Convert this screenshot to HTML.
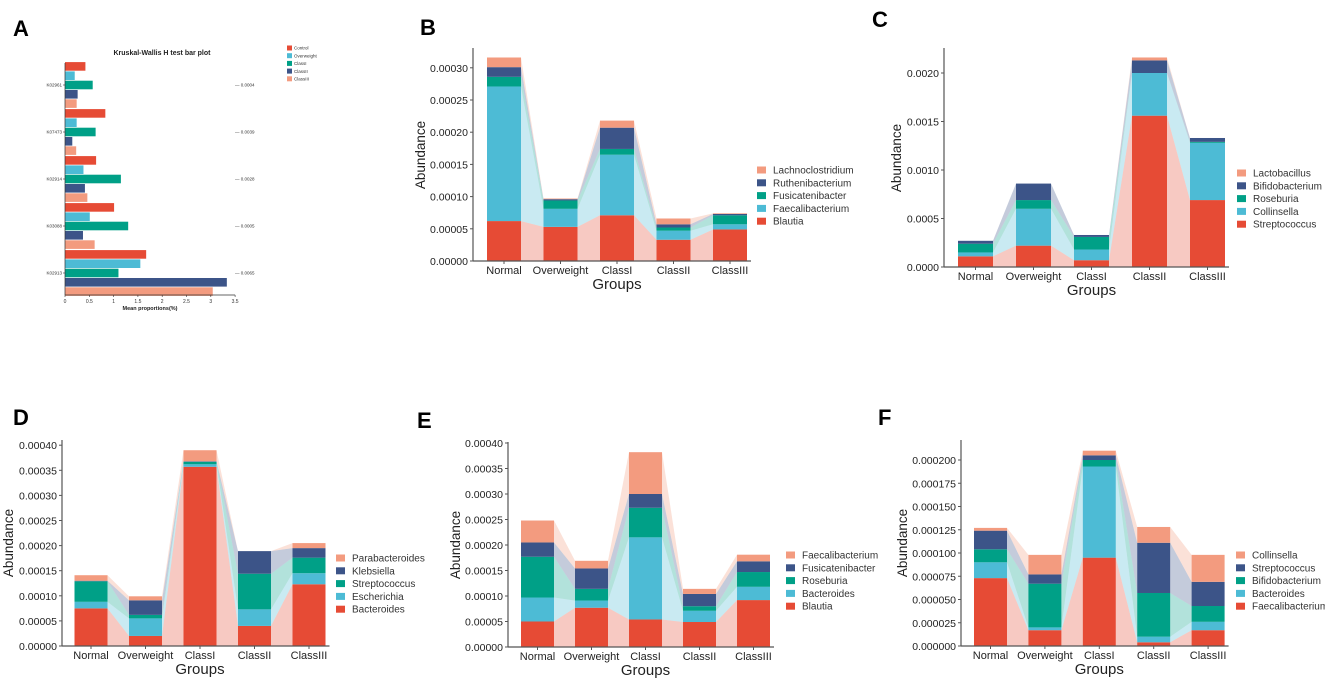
<!DOCTYPE html>
<html><head><meta charset="utf-8"><style>
html,body{margin:0;padding:0;background:#fff;}
svg{display:block;font-family:"Liberation Sans",Arial,sans-serif;}
</style></head><body>
<svg id="fig" width="1325" height="683" viewBox="0 0 1325 683" xmlns="http://www.w3.org/2000/svg"></svg>
<script>
const NS='http://www.w3.org/2000/svg';
const colors=['#E64B35','#4DBBD5','#00A087','#3C5488','#F39B7F'];
const groups=['Normal','Overweight','ClassI','ClassII','ClassIII'];

// Panel A data
const aCats=['K02961','K07473','K02914','K03088','K02913'];
const aSeries=['Control','Overweight','ClassI','ClassII','ClassIII'];
const aControl=[0.42,0.83,0.64,1.01,1.67];
const aOverweight=[0.20,0.24,0.38,0.51,1.55];
const aClassI=[0.57,0.63,1.15,1.30,1.10];
const aClassII=[0.26,0.15,0.41,0.37,3.33];
const aClassIII=[0.24,0.23,0.46,0.61,3.04];
const aPvals=['0.0004','0.0039','0.0028','0.0005','0.0065'];
const aTicks=[0,0.5,1,1.5,2,2.5,3,3.5];

// Panel B (cumulative stacks per group)
const bTaxa=['Blautia','Faecalibacterium','Fusicatenibacter','Ruthenibacterium','Lachnoclostridium'];
const bNormal=[0.000062,0.000271,0.000286,0.000301,0.000316];
const bOverweight=[0.000053,0.000081,0.000094,0.000096,0.000097];
const bClassI=[0.000071,0.000165,0.000174,0.000207,0.000218];
const bClassII=[0.000033,0.000047,0.000052,0.000057,0.000066];
const bClassIII=[0.000049,0.000057,0.000071,0.000073,0.000074];
const bTicks=['0.00000','0.00005','0.00010','0.00015','0.00020','0.00025','0.00030'];

// Panel C
const cTaxa=['Streptococcus','Collinsella','Roseburia','Bifidobacterium','Lactobacillus'];
const cNormal=[0.00011,0.00015,0.00024,0.00027,0.00027];
const cOverweight=[0.00022,0.00060,0.00069,0.00086,0.00086];
const cClassI=[0.00007,0.00018,0.00031,0.00033,0.00033];
const cClassII=[0.00156,0.00200,0.00200,0.00213,0.00216];
const cClassIII=[0.00069,0.00128,0.00129,0.00133,0.00133];
const cTicks=['0.0000','0.0005','0.0010','0.0015','0.0020'];

// Panel D
const dTaxa=['Bacteroides','Escherichia','Streptococcus','Klebsiella','Parabacteroides'];
const dNormal=[0.000075,0.000088,0.000129,0.000130,0.000141];
const dOverweight=[0.000020,0.000055,0.000062,0.000091,0.000099];
const dClassI=[0.000357,0.000362,0.000367,0.000368,0.000390];
const dClassII=[0.000040,0.000073,0.000144,0.000189,0.000189];
const dClassIII=[0.000123,0.000145,0.000176,0.000195,0.000205];
const dTicks=['0.00000','0.00005','0.00010','0.00015','0.00020','0.00025','0.00030','0.00035','0.00040'];

// Panel E
const eTaxa=['Blautia','Bacteroides','Roseburia','Fusicatenibacter','Faecalibacterium'];
const eNormal=[0.000050,0.000097,0.000177,0.000205,0.000248];
const eOverweight=[0.000077,0.000091,0.000114,0.000154,0.000169];
const eClassI=[0.000054,0.000215,0.000273,0.000300,0.000382];
const eClassII=[0.000049,0.000071,0.000080,0.000104,0.000114];
const eClassIII=[0.000092,0.000118,0.000147,0.000168,0.000181];
const eTicks=['0.00000','0.00005','0.00010','0.00015','0.00020','0.00025','0.00030','0.00035','0.00040'];

// Panel F
const fTaxa=['Faecalibacterium','Bacteroides','Bifidobacterium','Streptococcus','Collinsella'];
const fNormal=[0.000073,0.000090,0.000104,0.000124,0.000127];
const fOverweight=[0.000017,0.000020,0.000067,0.000077,0.000098];
const fClassI=[0.000095,0.000193,0.000200,0.000205,0.000210];
const fClassII=[0.000004,0.000010,0.000057,0.000111,0.000128];
const fClassIII=[0.000017,0.000026,0.000043,0.000069,0.000098];
const fTicks=['0.000000','0.000025','0.000050','0.000075','0.000100','0.000125','0.000150','0.000175','0.000200'];

const svg=document.getElementById('fig');
function mk(tag,attrs,parent){const e=document.createElementNS(NS,tag);for(const k in attrs)e.setAttribute(k,attrs[k]);(parent||svg).appendChild(e);return e;}
function txt(s,attrs,parent){const e=mk('text',attrs,parent);e.textContent=s;return e;}

function letter(s,x,y){const t=txt(s,{x:x,y:y,'font-size':22,'font-weight':'bold',fill:'#000'});

}

function stackPanel(cfg){
  const g=mk('g',{});
  
  
  const yv=v=>cfg.base-(v/cfg.tickStep)*cfg.pxPerStep;
  const xc=i=>cfg.x0+i*cfg.sp;
  const hw=cfg.bw/2;
  const data=cfg.stacks;
  for(let i=0;i<data.length-1;i++){
    for(let k=0;k<5;k++){
      const lo1=k?data[i][k-1]:0, hi1=data[i][k], lo2=k?data[i+1][k-1]:0, hi2=data[i+1][k];
      const xa=xc(i)+hw, xb=xc(i+1)-hw;
      const p=mk('polygon',{points:`${xa},${yv(lo1)} ${xa},${yv(hi1)} ${xb},${yv(hi2)} ${xb},${yv(lo2)}`,fill:colors[k],'fill-opacity':0.3},g);
      
      
    }
  }
  for(let i=0;i<data.length;i++){
    for(let k=0;k<5;k++){
      const lo=k?data[i][k-1]:0, hi=data[i][k];
      const r=mk('rect',{x:xc(i)-hw,y:yv(hi),width:cfg.bw,height:Math.max(0,yv(lo)-yv(hi)),fill:colors[k]},g);
      
      
    }
  }
  const ax=mk('line',{x1:cfg.ax,y1:cfg.top,x2:cfg.ax,y2:cfg.base,stroke:'#555','stroke-width':1.2},g);
  
  const bx=mk('line',{x1:cfg.ax,y1:cfg.base,x2:xc(4)+hw+4,y2:cfg.base,stroke:'#555','stroke-width':1.2},g);
  
  cfg.ticks.forEach((t,j)=>{
    const y=yv(j*cfg.tickStep);
    mk('line',{x1:cfg.ax-3,y1:y,x2:cfg.ax,y2:y,stroke:'#555'},g);
    const l=txt(t,{x:cfg.ax-5,y:y+4,'font-size':10.5,'text-anchor':'end',fill:'#222'},g);
    
  });
  groups.forEach((gname,i)=>{
    mk('line',{x1:xc(i),y1:cfg.base,x2:xc(i),y2:cfg.base+3,stroke:'#555'},g);
    const l=txt(gname,{x:xc(i),y:cfg.base+13,'font-size':11,'text-anchor':'middle',fill:'#222'},g);
    
  });
  const gt=txt('Groups',{x:(xc(0)+xc(4))/2,y:cfg.base+28,'font-size':15,'text-anchor':'middle',fill:'#222'},g);
  
  const at=txt('Abundance',{x:0,y:0,'font-size':13.5,'text-anchor':'middle',fill:'#222',transform:`translate(${cfg.titleX},${cfg.titleY}) rotate(-90)`},g);
  
  for(let k=4;k>=0;k--){
    const row=4-k, y=cfg.legY+row*12.8;
    const lg=mk('g',{},g);
    
    
    mk('rect',{x:cfg.legX,y:y-3.5,width:9,height:7,fill:colors[k]},lg);
    txt(cfg.taxa[k],{x:cfg.legX+16,y:y+3.5,'font-size':10,fill:'#333'},lg);
  }
}

(function(){
  const g=mk('g',{});
  
  
  const series=[aControl,aOverweight,aClassI,aClassII,aClassIII];
  const x0=65, pxu=48.6, base=295, top=63;
  const xv=v=>x0+v*pxu;
  const centers=[85,132,179,226,273];
  const bh=8.6, step=9.3;
  const t=txt('Kruskal-Wallis H test bar plot',{x:162,y:55,'font-size':7,'font-weight':'bold','text-anchor':'middle',fill:'#222'},g);
  
  aCats.forEach((c,i)=>{
    series.forEach((s,k)=>{
      const yc=centers[i]+(k-2)*step;
      const r=mk('rect',{x:x0,y:yc-bh/2,width:xv(s[i])-x0,height:bh,fill:colors[k]},g);
      
      
    });
    mk('line',{x1:x0-2,y1:centers[i],x2:x0,y2:centers[i],stroke:'#333','stroke-width':0.6},g);
    const l=txt(c,{x:x0-3,y:centers[i]+1.5,'font-size':4.5,'text-anchor':'end',fill:'#333'},g);
    
    const p=txt('— '+aPvals[i],{x:235,y:centers[i]+1.5,'font-size':4.5,fill:'#333'},g);
    
  });
  const ya=mk('line',{x1:x0,y1:top,x2:x0,y2:base,stroke:'#333','stroke-width':0.7},g);
  
  const xa=mk('line',{x1:x0,y1:base,x2:xv(3.5),y2:base,stroke:'#333','stroke-width':0.7},g);
  
  aTicks.forEach(v=>{
    mk('line',{x1:xv(v),y1:base,x2:xv(v),y2:base+2,stroke:'#333','stroke-width':0.6},g);
    const l=txt(String(v),{x:xv(v),y:base+8,'font-size':5,'text-anchor':'middle',fill:'#333'},g);
    
  });
  const xt=txt('Mean proportions(%)',{x:150,y:310,'font-size':5.5,'font-weight':'bold','text-anchor':'middle',fill:'#222'},g);
  
  aSeries.forEach((s,k)=>{
    const lg=mk('g',{},g);
    
    
    const y=48+k*7.7;
    mk('rect',{x:287,y:y-2.5,width:5,height:5,fill:colors[k]},lg);
    txt(s,{x:294,y:y+1.7,'font-size':4.5,fill:'#333'},lg);
  });
})();

letter('A',13,36);
letter('B',420,35);
letter('C',872,27);
letter('D',13,425);
letter('E',417,428);
letter('F',878,425);

stackPanel({id:'b',taxa:bTaxa,stacks:[bNormal,bOverweight,bClassI,bClassII,bClassIII],ticks:bTicks,tickStep:0.00005,pxPerStep:32.2,base:261,top:48,ax:473,x0:504,sp:56.5,bw:34,titleX:425,titleY:155,legX:757,legY:170});
stackPanel({id:'c',taxa:cTaxa,stacks:[cNormal,cOverweight,cClassI,cClassII,cClassIII],ticks:cTicks,tickStep:0.0005,pxPerStep:48.5,base:267,top:48,ax:944,x0:975.5,sp:58,bw:35,titleX:901,titleY:158,legX:1237,legY:173});
stackPanel({id:'d',taxa:dTaxa,stacks:[dNormal,dOverweight,dClassI,dClassII,dClassIII],ticks:dTicks,tickStep:0.00005,pxPerStep:25.1,base:646,top:440,ax:62,x0:91,sp:54.5,bw:33,titleX:13,titleY:543,legX:336,legY:558});
stackPanel({id:'e',taxa:eTaxa,stacks:[eNormal,eOverweight,eClassI,eClassII,eClassIII],ticks:eTicks,tickStep:0.00005,pxPerStep:25.5,base:647,top:442,ax:508,x0:537.5,sp:54,bw:33,titleX:460,titleY:545,legX:786,legY:555});
stackPanel({id:'f',taxa:fTaxa,stacks:[fNormal,fOverweight,fClassI,fClassII,fClassIII],ticks:fTicks,tickStep:0.000025,pxPerStep:23.25,base:646,top:440,ax:961,x0:990.5,sp:54.4,bw:33,titleX:907,titleY:543,legX:1236,legY:555});
</script>
</body></html>
